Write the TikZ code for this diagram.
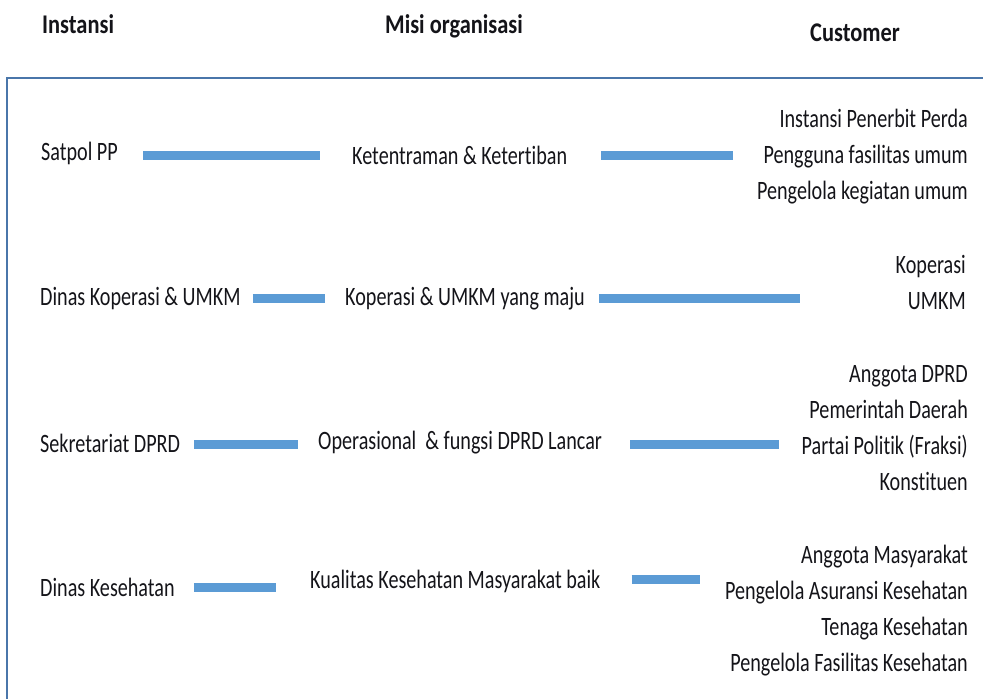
\documentclass[tikz,border=0pt]{standalone}
\usepackage{fontspec}
\setmainfont{Carlito}[FakeStretch=0.76, Ligatures={NoCommon}]
\newfontfamily\headfont{Carlito}[FakeStretch=0.83, Ligatures={NoCommon}]
\usepackage{xcolor}
\usetikzlibrary{positioning, calc}
\definecolor{barblue}{RGB}{91, 155, 213}
\definecolor{framelt}{RGB}{74, 118, 170}
\definecolor{ink}{RGB}{20, 20, 25}

\begin{document}
\begin{tikzpicture}[
    x=1pt, y=-1pt,
    head/.style={inner sep=0pt, anchor=base west, font=\headfont\bfseries\fontsize{27}{32}\selectfont, text=ink},
    txt/.style={inner sep=0pt, anchor=base west, font=\fontsize{26.5}{32}\selectfont, text=ink},
    cust/.style={txt, anchor=base east},
    bar/.style={line width=9pt, barblue}
  ]
  \useasboundingbox (0,0) rectangle (983,699);

  % Headers
  \node[head] (hinst) at (42,33) {Instansi};
  \node[head] (hmisi) at (385,33) {Misi organisasi};
  \node[head] (hcust) at (810,41) {Customer};

  % Frame
  \draw[framelt, line width=2pt] (983,78) -- (7,78) -- (7,699);

  % Row heights of the bars
  \coordinate (r1) at (0,155.5);
  \coordinate (r2) at (0,298);
  \coordinate (r3) at (0,444.5);
  \coordinate (r4a) at (0,587.5);
  \coordinate (r4b) at (0,579.5);

  % Satpol PP
  \node[txt] (satpol) at (41,160) {Satpol PP};
  \node[txt] (tertib) at (352,164) {Ketentraman \& Ketertiban};
  \node[cust] (c11) at (968,127) {Instansi Penerbit Perda};
  \node[cust] (c12) at (968,163) {Pengguna fasilitas umum};
  \node[cust] (c13) at (968,199) {Pengelola kegiatan umum};

  % Dinas Koperasi & UMKM
  \node[txt] (dinkop) at (40,305) {Dinas Koperasi \& UMKM};
  \node[txt] (kopmaju) at (345,305) {Koperasi \& UMKM yang maju};
  \node[cust] (c21) at (966,273) {Koperasi};
  \node[cust] (c22) at (966,309) {UMKM};

  % Sekretariat DPRD
  \node[txt] (setwan) at (40,452) {Sekretariat DPRD};
  \node[txt] (dprd) at (318,449) {Operasional\ \ \& fungsi DPRD Lancar};
  \node[cust] (c31) at (968,382) {Anggota DPRD};
  \node[cust] (c32) at (968,418) {Pemerintah Daerah};
  \node[cust] (c33) at (968,454) {Partai Politik (Fraksi)};
  \node[cust] (c34) at (968,490) {Konstituen};

  % Dinas Kesehatan
  \node[txt] (dinkes) at (40,596) {Dinas Kesehatan};
  \node[txt] (sehat) at (310,588) {Kualitas Kesehatan Masyarakat baik};
  \node[cust] (c41) at (968,563) {Anggota Masyarakat};
  \node[cust] (c42) at (968,599) {Pengelola Asuransi Kesehatan};
  \node[cust] (c43) at (968,635) {Tenaga Kesehatan};
  \node[cust] (c44) at (968,671) {Pengelola Fasilitas Kesehatan};

  % Bars
  \draw[bar] ([xshift=25pt]satpol.east |- r1) -- ([xshift=-32pt]tertib.west |- r1);
  \draw[bar] ([xshift=34pt]tertib.east |- r1) -- ([xshift=-30pt]c12.west |- r1);
  \draw[bar] ([xshift=12pt]dinkop.east |- r2) -- ([xshift=-20pt]kopmaju.west |- r2);
  \draw[bar] ([xshift=14pt]kopmaju.east |- r2) -- ([xshift=-108pt]c22.west |- r2);
  \draw[bar] ([xshift=14pt]setwan.east |- r3) -- ([xshift=-20pt]dprd.west |- r3);
  \draw[bar] ([xshift=28pt]dprd.east |- r3) -- ([xshift=-23pt]c33.west |- r3);
  \draw[bar] ([xshift=19pt]dinkes.east |- r4a) -- ([xshift=-34pt]sehat.west |- r4a);
  \draw[bar] ([xshift=31pt]sehat.east |- r4b) -- ([xshift=-25pt]c42.west |- r4b);

\end{tikzpicture}
\end{document}
